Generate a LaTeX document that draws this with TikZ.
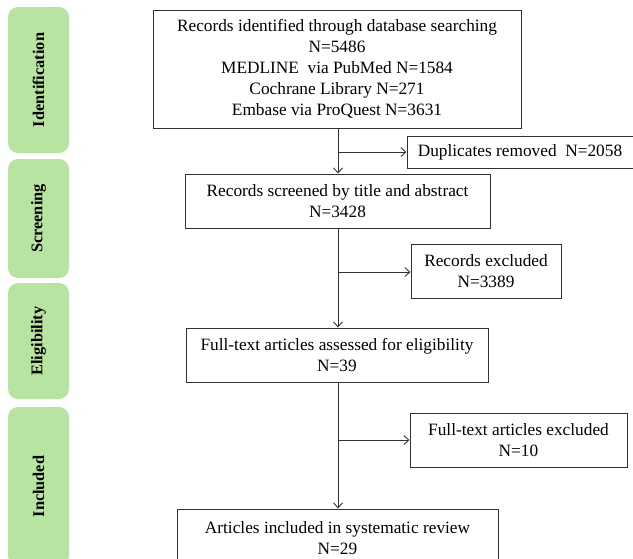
\documentclass[tikz,border=0pt]{standalone}
\usepackage{fontspec}
\setmainfont{Liberation Serif}
\usetikzlibrary{arrows.meta}
\definecolor{phase}{RGB}{183,228,160}
\definecolor{edge}{RGB}{50,50,50}
\begin{document}
\begin{tikzpicture}[x=1pt,y=-1pt,
  box/.style={draw=edge,line width=1pt,rectangle,inner sep=0pt,align=center,
    font=\fontsize{17.3}{21}\selectfont},
  phasebox/.style={fill=phase,rounded corners=10pt,inner sep=0pt,minimum width=61pt,
    font=\bfseries\fontsize{16.3}{19}\selectfont},
  arr/.style={draw=edge,line width=1pt,-{Straight Barb[length=5pt,width=9pt,line width=0.9pt]}}]
\useasboundingbox (0,0) rectangle (633,558);
\begin{scope}
\clip (0,0) rectangle (633,558);
% phase labels
\node[phasebox,minimum height=146pt] (pid) at (38.5,80) {\rotatebox{90}{Identification}};
\node[phasebox,minimum height=119pt] (psc) at (38.5,218.5) {\rotatebox{90}{Screening}};
\node[phasebox,minimum height=116pt] (pel) at (38.5,341) {\rotatebox{90}{Eligibility}};
\node[phasebox,minimum height=159pt] (pin) at (38.5,486.5) {\rotatebox{90}{Included}};
% main boxes
\node[box,minimum width=368pt,minimum height=118pt] (b1) at (337,69)
  {Records identified through database searching\\N=5486\\MEDLINE\ \ via PubMed N=1584\\Cochrane Library N=271\\Embase via ProQuest N=3631};
\node[box,minimum width=305pt,minimum height=54pt] (b2) at (337.5,201)
  {Records screened by title and abstract\\N=3428};
\node[box,minimum width=302pt,minimum height=54pt] (b3) at (337,355)
  {Full-text articles assessed for eligibility\\N=39};
\node[box,minimum width=321pt,minimum height=58pt] (b4) at (337.5,538)
  {Articles included in systematic review\\N=29};
% side boxes
\node[box,minimum width=226pt,minimum height=32pt] (d1) at (520,152)
  {Duplicates removed\ \ N=2058};
\node[box,minimum width=150pt,minimum height=54pt] (d2) at (486,271)
  {Records excluded\\N=3389};
\node[box,minimum width=217pt,minimum height=54pt] (d3) at (518.5,440)
  {Full-text articles excluded\\N=10};
% connectors
\coordinate (c1) at (338,152);
\coordinate (c2) at (338,272);
\coordinate (c3) at (338,440);
\draw[arr] (b1.south -| c1) -- (b2.north -| c1);
\draw[arr] (b2.south -| c1) -- (b3.north -| c1);
\draw[arr] (b3.south -| c1) -- (b4.north -| c1);
\draw[arr] (c1) -- (d1.west |- c1);
\draw[arr] (c2) -- (d2.west |- c2);
\draw[arr] (c3) -- (d3.west |- c3);
\end{scope}
\end{tikzpicture}
\end{document}
